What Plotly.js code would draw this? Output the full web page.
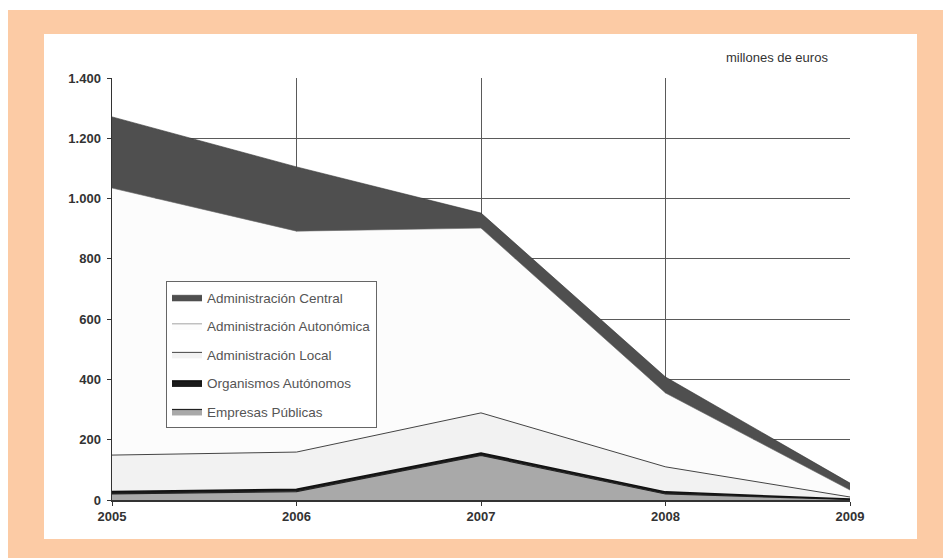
<!DOCTYPE html>
<html>
<head>
<meta charset="utf-8">
<script src="https://cdn.plot.ly/plotly-3.0.1.min.js"></script>
<style>
html,body{margin:0;padding:0;background:#ffffff;}
#chart{width:943px;height:558px;}
</style>
</head>
<body>
<div id="chart"></div>
<script>
// Data (millones de euros)
const years = [2005, 2006, 2007, 2008, 2009];
const empresasPublicas = [20, 28, 148, 20, 2];
const organismosAutonomos = [8, 8, 8, 7, 1];
const administracionLocal = [121, 123, 133, 83, 7];
const administracionAutonomica = [886, 733, 613, 245, 23];
const administracionCentral = [236, 213, 50, 53, 23];
const seriesNames = [
  "Empresas Públicas",
  "Organismos Autónomos",
  "Administración Local",
  "Administración Autonómica",
  "Administración Central"
];
const yTicks = [0, 200, 400, 600, 800, 1000, 1200, 1400];
const unitLabel = "millones de euros";

const seriesValues = [empresasPublicas, organismosAutonomos, administracionLocal, administracionAutonomica, administracionCentral];
const fills = ["#a9a9a9", "#1a1a1a", "#f2f2f2", "#fcfcfc", "#4f4f4f"];
const lineColors = ["#222222", "#111111", "#444444", "#666666", "#333333"];
const lineWidths = [1.2, 1.5, 1, 0.6, 0.6];

const traces = seriesValues.map((vals, i) => ({
  type: "scatter",
  mode: "lines",
  x: years,
  y: vals,
  name: seriesNames[i],
  stackgroup: "one",
  legendgroup: "g" + i,
  legendrank: seriesValues.length - i,
  fillcolor: fills[i],
  line: {color: lineColors[i], width: lineWidths[i], shape: "linear"},
  hoverinfo: "x+y+name"
}));

const px = v => (v - 112) / 738;   // pixel x -> paper x
const py = v => (500 - v) / 422;   // pixel y -> paper y

const layout = {
  width: 943,
  height: 558,
  margin: {l: 112, r: 93, t: 78, b: 58},
  paper_bgcolor: "#ffffff",
  plot_bgcolor: "#ffffff",
  separators: ",.",
  font: {family: "Liberation Sans, Arial, sans-serif", color: "#333"},
  showlegend: true,
  legend: {
    x: px(166), y: py(281), xanchor: "left", yanchor: "top",
    bgcolor: "#ffffff", bordercolor: "#666666", borderwidth: 1,
    font: {size: 13.5, color: "#555555"},
    traceorder: "grouped",
    tracegroupgap: 8
  },
  xaxis: {
    range: [2005, 2009],
    tickvals: years,
    ticktext: years.map(String),
    showgrid: true, gridcolor: "#5a5a5a", gridwidth: 1,
    showline: true, linecolor: "#333333", linewidth: 1.5,
    ticks: "outside", ticklen: 4, tickcolor: "#333",
    tickfont: {size: 13, color: "#333333", weight: "bold"},
    zeroline: false, fixedrange: true
  },
  yaxis: {
    range: [0, 1400],
    tickvals: yTicks,
    tickformat: ",d",
    showgrid: true, gridcolor: "#5a5a5a", gridwidth: 1,
    showline: true, linecolor: "#333333", linewidth: 1.5,
    ticks: "outside", ticklen: 4, tickcolor: "#333",
    ticklabelstandoff: 3,
    tickfont: {size: 13, color: "#333333", weight: "bold"},
    zeroline: false, fixedrange: true
  },
  shapes: [
    {type: "rect", xref: "paper", yref: "paper", layer: "below",
     x0: px(8), x1: px(943), y0: py(558), y1: py(10),
     fillcolor: "#fccba5", line: {width: 0}},
    {type: "rect", xref: "paper", yref: "paper", layer: "below",
     x0: px(44), x1: px(917), y0: py(539), y1: py(34),
     fillcolor: "#ffffff", line: {width: 0}}
  ],
  annotations: [
    {text: unitLabel, xref: "paper", yref: "paper",
     x: px(830), y: py(57), xanchor: "right", yanchor: "middle",
     showarrow: false, font: {size: 13, color: "#333333"}}
  ]
};

Plotly.newPlot("chart", traces, layout, {displayModeBar: false, staticPlot: true});
</script>
</body>
</html>
